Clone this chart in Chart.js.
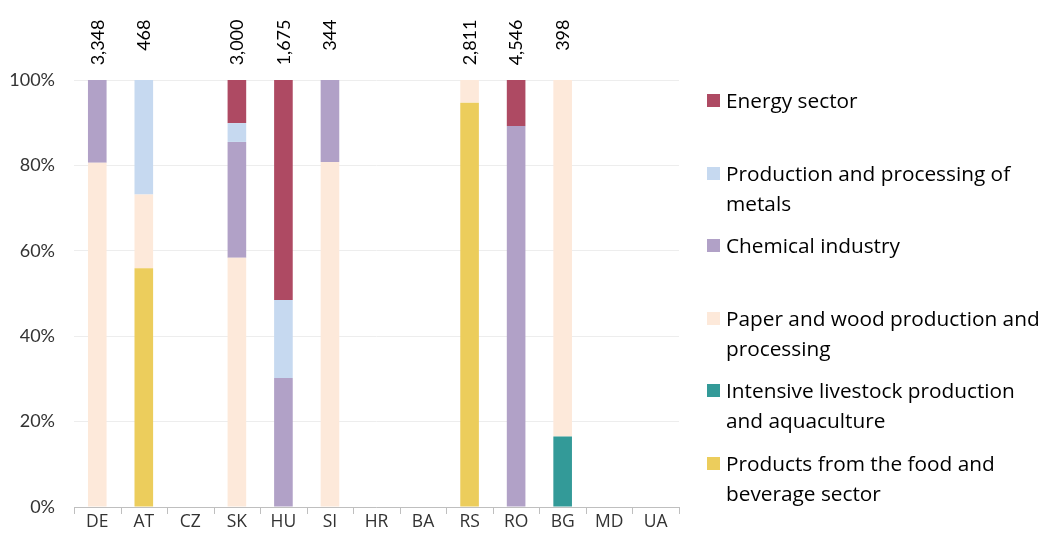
<!DOCTYPE html>
<html>
<head>
<meta charset="utf-8">
<script src="https://cdn.jsdelivr.net/npm/chart.js@4"></script>
<style>
  html, body { margin: 0; padding: 0; background: #fff; overflow: hidden; }
  #wrap { position: relative; width: 1051px; height: 541px; overflow: hidden; }
  #c { position: absolute; left: 0; top: 0; }
  .lg { position: absolute; left: 707px; font-family: "Open Sans", sans-serif; font-size: 20.8px; line-height: 30px; color: #000; }
  .lg .sw { position: absolute; left: 0; top: 9px; width: 13px; height: 13px; }
  .lg .tx { position: absolute; left: 19px; top: 0; white-space: pre; }
</style>
</head>
<body>
<div id="wrap"><canvas id="c" width="1051" height="541"></canvas></div>
<script>
const categories = ['DE','AT','CZ','SK','HU','SI','HR','BA','RS','RO','BG','MD','UA'];
const totals = ['3,348','468',null,'3,000','1,675','344',null,null,'2,811','4,546','398',null,null];

// shares in percent, stacking from bottom
const foodBeverage = [0, 55.9, null, 0, 0, 0, null, null, 94.7, 0, 0, null, null];
const livestock    = [0, 0, null, 0, 0, 0, null, null, 0, 0, 16.5, null, null];
const paperWood    = [80.6, 17.3, null, 58.4, 0, 80.8, null, null, 5.3, 0, 83.5, null, null];
const chemical     = [19.4, 0, null, 27.1, 30.2, 19.2, null, null, 0, 89.2, 0, null, null];
const metals       = [0, 26.8, null, 4.4, 18.3, 0, null, null, 0, 0, 0, null, null];
const energy       = [0, 0, null, 10.1, 51.6, 0, null, null, 0, 10.8, 0, null, null];

const seriesNames = [
  'Products from the food and\nbeverage sector',
  'Intensive livestock production\nand aquaculture',
  'Paper and wood production and\nprocessing',
  'Chemical industry',
  'Production and processing of\nmetals',
  'Energy sector'
];
const seriesColors = ['#ECCD5C', '#339A98', '#FDE9DA', '#B1A1C7', '#C6D9F0', '#AE4A63'];
const seriesData = [foodBeverage, livestock, paperWood, chemical, metals, energy];
const yTicks = [0, 20, 40, 60, 80, 100];

const datasets = seriesData.map((d, i) => ({
  label: seriesNames[i],
  data: d,
  backgroundColor: seriesColors[i],
  borderWidth: 0,
  categoryPercentage: 1,
  barPercentage: 0.4
}));

const totalsPlugin = {
  id: 'totals',
  afterDatasetsDraw(chart) {
    const ctx = chart.ctx;
    const xs = chart.scales.x;
    ctx.save();
    ctx.font = '18px Lato, sans-serif';
    ctx.fillStyle = '#000';
    totals.forEach((t, i) => {
      if (!t) return;
      const x = xs.getPixelForValue(i);
      ctx.save();
      ctx.translate(x + 0.5, 19.5);
      ctx.rotate(-Math.PI / 2);
      ctx.textAlign = 'right';
      ctx.textBaseline = 'middle';
      ctx.fillText(t, 0, 0);
      ctx.restore();
    });
    ctx.restore();
  }
};

const tickMarksPlugin = {
  id: 'tickMarks',
  afterDraw(chart) {
    const ctx = chart.ctx;
    const a = chart.chartArea;
    const n = categories.length;
    const w = (a.right - a.left) / n;
    ctx.save();
    ctx.strokeStyle = '#BFBFBF';
    ctx.lineWidth = 1;
    ctx.beginPath();
    ctx.moveTo(a.left, a.bottom + 0.5);
    ctx.lineTo(a.right, a.bottom + 0.5);
    for (let i = 0; i <= n; i++) {
      const x = Math.round(a.left + i * w) + 0.5;
      ctx.moveTo(x, a.bottom);
      ctx.lineTo(x, a.bottom + 7);
    }
    ctx.stroke();
    ctx.restore();
  }
};

new Chart(document.getElementById('c'), {
  type: 'bar',
  data: { labels: categories, datasets },
  options: {
    responsive: false,
    animation: false,
    maintainAspectRatio: false,
    layout: { padding: { left: 0, right: 372, top: 80, bottom: 0 } },
    plugins: { legend: { display: false }, tooltip: { enabled: false } },
    scales: {
      x: {
        stacked: true,
        grid: { display: false, drawTicks: false },
        border: { display: false },
        ticks: { color: '#333333', font: { family: '"Open Sans", sans-serif', size: 17.5 }, padding: 5, maxRotation: 0, autoSkip: false },
        afterFit(s) { s.height = 34; }
      },
      y: {
        stacked: true,
        min: 0, max: 100,
        afterBuildTicks(s) { s.ticks = yTicks.map(v => ({ value: v })); },
        grid: { color: '#EDEDED', drawTicks: false, lineWidth: 1 },
        border: { display: false },
        ticks: { color: '#333333', font: { family: 'Lato, sans-serif', size: 18 }, padding: 19, callback: v => v + '%' },
        afterFit(s) { s.width = 74; }
      }
    }
  },
  plugins: [totalsPlugin, tickMarksPlugin]
});

// legend (reverse order, evenly spaced entries like the reference)
const wrap = document.getElementById('wrap');
for (let k = 0; k < seriesNames.length; k++) {
  const i = seriesNames.length - 1 - k;
  const div = document.createElement('div');
  div.className = 'lg';
  div.style.top = (85 + k * 72.6) + 'px';
  const sw = document.createElement('div');
  sw.className = 'sw';
  sw.style.background = seriesColors[i];
  const tx = document.createElement('div');
  tx.className = 'tx';
  tx.textContent = seriesNames[i];
  div.appendChild(sw);
  div.appendChild(tx);
  wrap.appendChild(div);
}
</script>
</body>
</html>
